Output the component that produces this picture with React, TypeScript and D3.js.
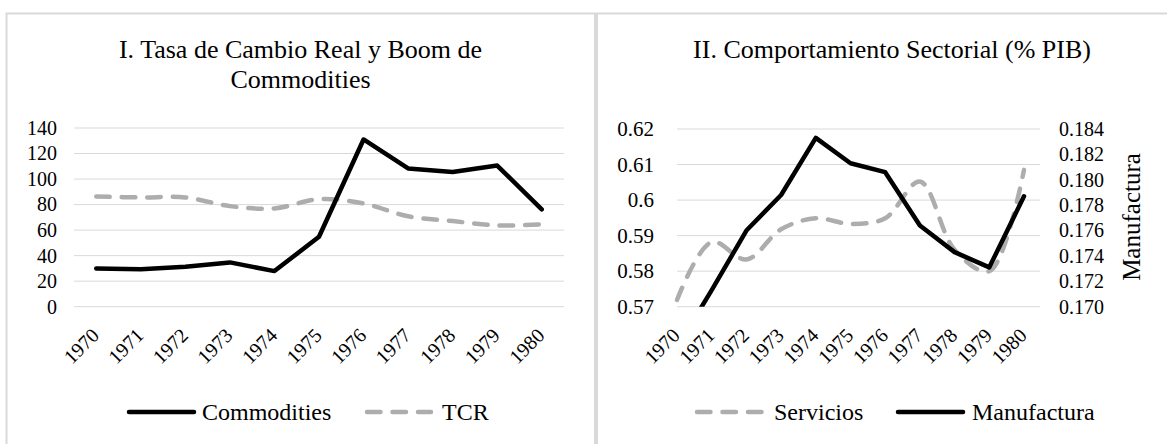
import { useEffect, useRef } from 'react';
import * as d3 from 'd3';

// values
const years = ['1970', '1971', '1972', '1973', '1974', '1975', '1976', '1977', '1978', '1979', '1980'];
const commodities = [30, 29.3, 31.3, 34.7, 27.9, 54.8, 131, 108.3, 105.6, 110.6, 76.2];
const tcr = [86.3, 85.6, 85.6, 78.8, 77, 84.2, 80.9, 70.8, 67.1, 63.7, 64.5];
const servicios = [0.5719, 0.5882, 0.5833, 0.5918, 0.5949, 0.5933, 0.5949, 0.6052, 0.586, 0.58, 0.6085];
const manufactura = [0.1668, 0.1713, 0.176, 0.1788, 0.1833, 0.1813, 0.1806, 0.1764, 0.1743, 0.1731, 0.1787];
const leftTicks = [0, 20, 40, 60, 80, 100, 120, 140];
const servTicks = [0.57, 0.58, 0.59, 0.6, 0.61, 0.62];
const manuTicks = [0.17, 0.172, 0.174, 0.176, 0.178, 0.18, 0.182, 0.184];

const FONT = 'Liberation Serif, Times New Roman, serif';
const GRID = '#d9d9d9';
const GRAY = '#adadad';
const DASH = '13.5 12';

const App = () => {
  const svgRef = useRef<SVGSVGElement>(null);

  useEffect(() => {
    const svg = d3.select(svgRef.current);
    svg.selectAll('*').remove();

    //panel frames
    svg.append('rect').attr('x', 6.5).attr('y', 13.5).attr('width', 588.5).attr('height', 480)
      .attr('fill', 'none').attr('stroke', GRID).attr('stroke-width', 2);
    svg.append('rect').attr('x', 597).attr('y', 13.5).attr('width', 600).attr('height', 480)
      .attr('fill', 'none').attr('stroke', GRID).attr('stroke-width', 2);

    // ---------- panel I ----------
    const x1 = d3.scaleBand().domain(years).range([74, 564]);
    const cx1 = (d: string) => (x1(d) as number) + x1.bandwidth() / 2;
    const y1 = d3.scaleLinear().domain([0, 140]).range([306.7, 128]);

    svg.append('text').attr('x', 300.5).attr('y', 58).attr('text-anchor', 'middle')
      .style('font-size', '26px').text('I. Tasa de Cambio Real y Boom de');
    svg.append('text').attr('x', 300.5).attr('y', 88).attr('text-anchor', 'middle')
      .style('font-size', '26px').text('Commodities');

    svg.append('g').selectAll('line').data(leftTicks).enter().append('line')
      .attr('x1', 74).attr('x2', 564)
      .attr('y1', d => y1(d)).attr('y2', d => y1(d))
      .attr('stroke', GRID).attr('stroke-width', 1);

    const ax1 = svg.append('g').attr('transform', 'translate(74,0)')
      .call(d3.axisLeft(y1).tickValues(leftTicks).tickSize(0).tickPadding(17));
    ax1.select('.domain').remove();
    ax1.attr('font-family', FONT).attr('font-size', 20);
    ax1.selectAll('text').attr('fill', '#000');

    svg.append('g').selectAll('text').data(years).enter().append('text')
      .attr('transform', d => `translate(${cx1(d) + 4},${306.7 + 30}) rotate(-45)`)
      .attr('text-anchor', 'end').style('font-size', '20px').text(d => d);

    const line1 = d3.line<number>().x((_, i) => cx1(years[i])).y(d => y1(d));
    svg.append('path')
      .attr('d', line1.curve(d3.curveCatmullRom)(tcr))
      .attr('fill', 'none').attr('stroke', GRAY).attr('stroke-width', 4.5)
      .attr('stroke-dasharray', DASH).attr('stroke-linecap', 'round');
    svg.append('path')
      .attr('d', line1.curve(d3.curveLinear)(commodities))
      .attr('fill', 'none').attr('stroke', '#000').attr('stroke-width', 4.5)
      .attr('stroke-linejoin', 'round').attr('stroke-linecap', 'round');

    // ---------- panel II ----------
    const x2 = d3.scalePoint().domain(years).range([677, 1024]);
    const yS = d3.scaleLinear().domain([0.57, 0.62]).range([306.7, 129]);
    const yM = d3.scaleLinear().domain([0.17, 0.184]).range([306.7, 129]);

    svg.append('text').attr('x', 892).attr('y', 58).attr('text-anchor', 'middle')
      .style('font-size', '26px').text('II. Comportamiento Sectorial (% PIB)');

    svg.append('g').selectAll('line').data(servTicks).enter().append('line')
      .attr('x1', 677).attr('x2', 1040)
      .attr('y1', d => yS(d)).attr('y2', d => yS(d))
      .attr('stroke', GRID).attr('stroke-width', 1);

    const ax2 = svg.append('g').attr('transform', 'translate(677,0)')
      .call(d3.axisLeft(yS).tickValues(servTicks).tickSize(0).tickPadding(23).tickFormat(d => String(+d)));
    ax2.select('.domain').remove();
    ax2.attr('font-family', FONT).attr('font-size', 21);
    ax2.selectAll('text').attr('fill', '#000');

    const ax3 = svg.append('g').attr('transform', 'translate(1040,0)')
      .call(d3.axisRight(yM).tickValues(manuTicks).tickSize(0).tickPadding(19).tickFormat(d3.format('.3f')));
    ax3.select('.domain').remove();
    ax3.attr('font-family', FONT).attr('font-size', 20);
    ax3.selectAll('text').attr('fill', '#000');

    svg.append('text').attr('transform', 'translate(1140,217) rotate(-90)')
      .attr('text-anchor', 'middle').style('font-size', '25px').text('Manufactura');

    svg.append('g').selectAll('text').data(years).enter().append('text')
      .attr('transform', d => `translate(${(x2(d) as number) + 4},${306.7 + 30}) rotate(-45)`)
      .attr('text-anchor', 'end').style('font-size', '20px').text(d => d);

    svg.append('clipPath').attr('id', 'clip2').append('rect')
      .attr('x', 670).attr('y', 120).attr('width', 380).attr('height', 306.7 - 120);

    const g2 = svg.append('g').attr('clip-path', 'url(#clip2)');
    g2.append('path')
      .attr('d', d3.line<number>().x((_, i) => x2(years[i]) as number).y(d => yS(d)).curve(d3.curveCatmullRom)(servicios))
      .attr('fill', 'none').attr('stroke', GRAY).attr('stroke-width', 4.5)
      .attr('stroke-dasharray', DASH).attr('stroke-linecap', 'round');
    g2.append('path')
      .attr('d', d3.line<number>().x((_, i) => x2(years[i]) as number).y(d => yM(d))(manufactura))
      .attr('fill', 'none').attr('stroke', '#000').attr('stroke-width', 4.5)
      .attr('stroke-linejoin', 'round').attr('stroke-linecap', 'round');

    // ---------- legends ----------
    const legend = [
      { x0: 127, x1: 196, tx: 202, label: 'Commodities', color: '#000', dash: null },
      { x0: 365, x1: 433, tx: 442, label: 'TCR', color: GRAY, dash: DASH },
      { x0: 695, x1: 765, tx: 774, label: 'Servicios', color: GRAY, dash: DASH },
      { x0: 896, x1: 965, tx: 972, label: 'Manufactura', color: '#000', dash: null },
    ];
    const lg = svg.append('g').selectAll('g').data(legend).enter().append('g');
    lg.append('line')
      .attr('x1', d => d.x0 + 2).attr('x2', d => d.x1 - 2).attr('y1', 412).attr('y2', 412)
      .attr('stroke', d => d.color).attr('stroke-width', 4.5).attr('stroke-linecap', 'round')
      .attr('stroke-dasharray', d => d.dash);
    lg.append('text').attr('x', d => d.tx).attr('y', 420)
      .style('font-size', '24px').text(d => d.label);

    // same serif face everywhere
    svg.selectAll('text').attr('font-family', FONT).style('font-family', FONT);
  }, []);

  return (
    <svg ref={svgRef} width={1167} height={444}
      style={{ position: 'absolute', left: 0, top: 0, background: '#fff' }}></svg>
  );
};

export default App;
